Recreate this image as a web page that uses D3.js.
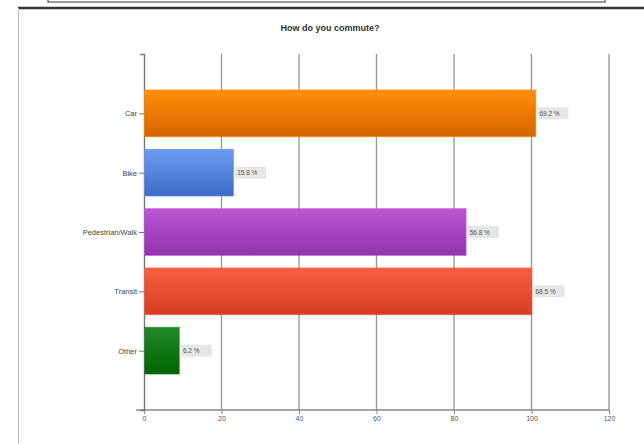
<!DOCTYPE html>
<html>
<head>
<meta charset="utf-8">
<script src="https://cdn.jsdelivr.net/npm/d3@7"></script>
<style>
  body { margin: 0; background: #fff; }
  svg { display: block; font-family: "Liberation Sans", Arial, sans-serif; }
</style>
</head>
<body>
<svg width="644" height="444"></svg>
<script>
// данные опроса
const categories = ["Car", "Bike", "Pedestrian/Walk", "Transit", "Other"];
const counts = [101, 23, 83, 100, 9];
const percents = ["69.2 %", "15.8 %", "56.8 %", "68.5 %", "6.2 %"];
const xTicks = [0, 20, 40, 60, 80, 100, 120];
const barColors = [
  ["#ff8f0a", "#d66400"],
  ["#6a9af0", "#3e6cc6"],
  ["#bc55d4", "#9333ae"],
  ["#f75f40", "#d63d22"],
  ["#22892a", "#006400"]
];

const svg = d3.select("svg");

// рамка страницы
svg.append("rect").attr("x", 48).attr("y", -10).attr("width", 557).attr("height", 12)
  .attr("fill", "#fff").attr("stroke", "#555").attr("stroke-width", 1.2);
svg.append("line").attr("x1", 18).attr("x2", 644).attr("y1", 8).attr("y2", 8)
  .attr("stroke", "#333").attr("stroke-width", 2.5);
svg.append("line").attr("x1", 18.5).attr("x2", 18.5).attr("y1", 8).attr("y2", 444)
  .attr("stroke", "#bbb").attr("stroke-width", 1);

svg.append("text")
  .attr("x", 330).attr("y", 31)
  .attr("text-anchor", "middle")
  .attr("font-size", 9).attr("font-weight", "bold").attr("fill", "#333")
  .text("How do you commute?");

const area = { left: 144, right: 609, top: 54, bottom: 410 };

const scX = d3.scaleLinear().domain([0, 120]).range([area.left, area.right]);
const scY = d3.scalePoint().domain(categories).range([area.top, area.bottom]).padding(1);
const step = scY.step();
const barH = step * 0.79;

// градиенты
const defs = svg.append("defs");
barColors.forEach((c, i) => {
  const g = defs.append("linearGradient").attr("id", "grad" + i)
    .attr("x1", 0).attr("y1", 0).attr("x2", 0).attr("y2", 1);
  g.append("stop").attr("offset", "0%").attr("stop-color", c[0]);
  g.append("stop").attr("offset", "100%").attr("stop-color", c[1]);
});

// сетка
svg.append("g")
  .selectAll("line")
  .data(xTicks.slice(1))
  .enter()
  .append("line")
  .attr("x1", d => scX(d)).attr("x2", d => scX(d))
  .attr("y1", area.top).attr("y2", area.bottom)
  .attr("stroke", "#9a9a9a").attr("stroke-width", 1.4);

// ось X
const gx = svg.append("g")
  .attr("transform", `translate(0, ${area.bottom})`)
  .call(d3.axisBottom(scX).tickValues(xTicks).tickSize(4).tickPadding(2));
gx.select(".domain").attr("stroke", "#888").attr("stroke-width", 1.4)
  .attr("d", `M${area.left - 8},0H${area.right}`);
gx.selectAll(".tick line").attr("stroke", "#888");
gx.selectAll("text").attr("font-size", 7).attr("fill", "#555")
  .attr("font-family", "Liberation Sans, Arial, sans-serif");

// ось Y
const gy = svg.append("g")
  .attr("transform", `translate(${area.left}, 0)`)
  .call(d3.axisLeft(scY).tickSize(5).tickPadding(2).tickSizeOuter(4));
gy.select(".domain").attr("stroke", "#777").attr("stroke-width", 1.4);
gy.selectAll(".tick line").attr("stroke", "#777");
gy.selectAll("text").attr("font-size", 7.5).attr("fill", "#444")
  .attr("font-family", "Liberation Sans, Arial, sans-serif");

// столбцы
svg.selectAll(".bar")
  .data(categories)
  .enter()
  .append("rect")
  .attr("class", "bar")
  .attr("x", scX(0) + 0.5)
  .attr("y", d => scY(d) - barH / 2)
  .attr("width", (d, i) => scX(counts[i]) - scX(0))
  .attr("height", barH)
  .attr("fill", (d, i) => `url(#grad${i})`)
  .attr("stroke", (d, i) => barColors[i][0])
  .attr("stroke-opacity", 0.5)
  .attr("stroke-width", 1);

// подписи значений
const labels = svg.selectAll(".val")
  .data(categories)
  .enter()
  .append("g")
  .attr("class", "val")
  .attr("transform", (d, i) => `translate(${scX(counts[i]) + 2}, ${scY(d)})`);
labels.append("rect")
  .attr("x", 0).attr("y", -6).attr("width", 31).attr("height", 12)
  .attr("fill", "#e6e6e6");
labels.append("text")
  .attr("x", 2).attr("y", 2.5)
  .attr("font-size", 6.5).attr("fill", "#555")
  .text((d, i) => percents[i]);
</script>
</body>
</html>
